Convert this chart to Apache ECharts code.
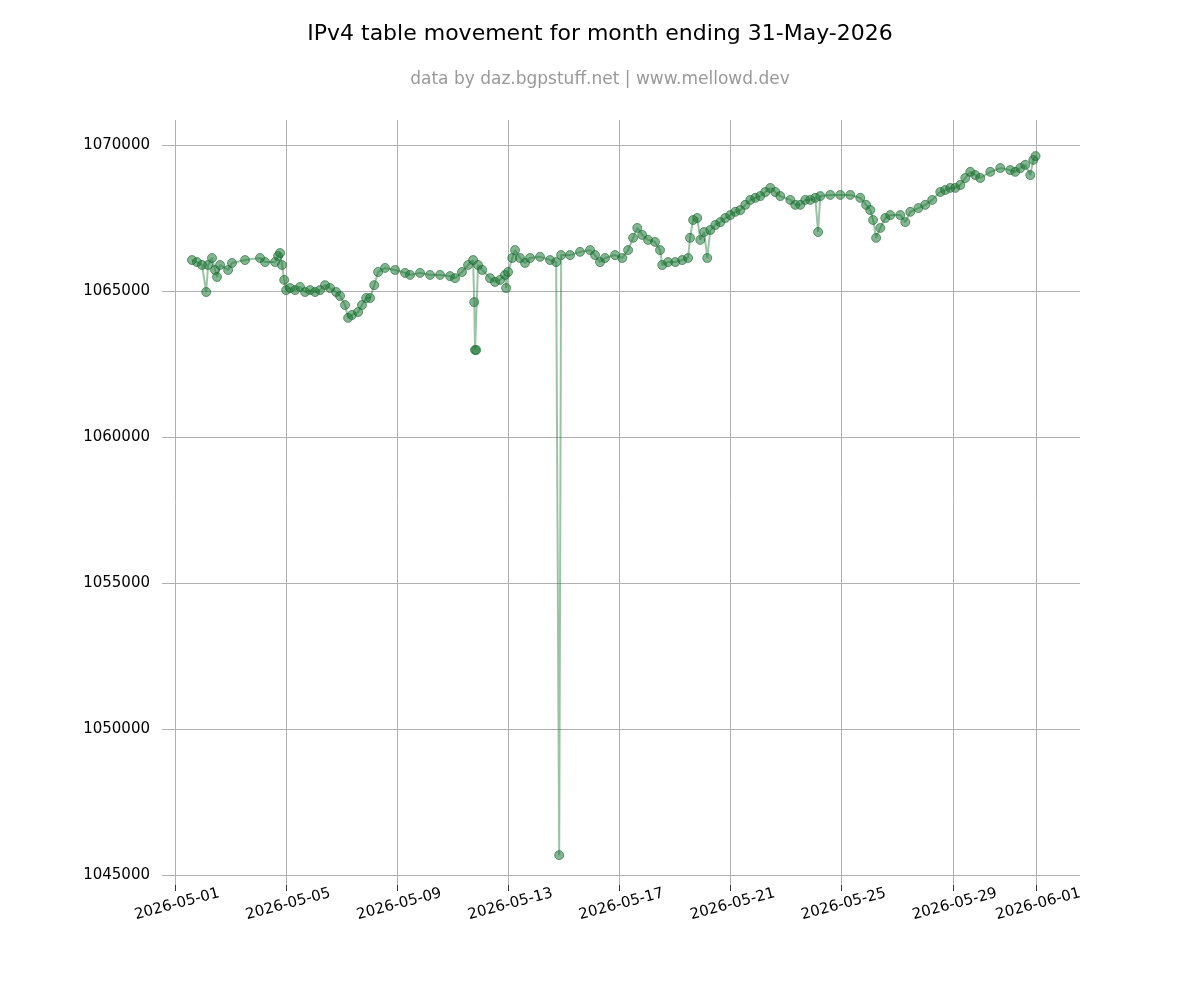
<!DOCTYPE html>
<html><head><meta charset="utf-8">
<script src="https://cdn.jsdelivr.net/npm/echarts@6/dist/echarts.min.js"></script>
<style>html,body{margin:0;padding:0;background:#fff}#c{width:1200px;height:1000px}</style>
</head><body><div id="c"></div>
<script>
// days since 2026-05-01 00:00
const dayOffsets = [0.61,0.79,0.97,1.12,1.19,1.33,1.44,1.51,1.62,1.91,2.05,2.52,3.06,3.24,3.60,3.71,3.78,3.85,3.93,4.00,4.14,4.32,4.50,4.68,4.86,5.04,5.22,5.40,5.58,5.80,5.94,6.12,6.23,6.37,6.59,6.73,6.88,7.02,7.17,7.31,7.56,7.92,8.28,8.46,8.82,9.18,9.54,9.90,10.08,10.33,10.55,10.73,10.77,10.80,10.84,10.91,11.06,11.34,11.52,11.70,11.88,11.92,11.99,12.14,12.24,12.42,12.60,12.78,13.14,13.50,13.72,13.83,13.90,14.22,14.58,14.94,15.12,15.30,15.48,15.84,16.10,16.31,16.49,16.64,16.82,17.03,17.28,17.46,17.54,17.75,18.01,18.26,18.47,18.54,18.65,18.80,18.91,19.05,19.16,19.27,19.45,19.63,19.81,19.99,20.17,20.35,20.53,20.71,20.89,21.07,21.25,21.43,21.61,21.79,22.15,22.33,22.51,22.69,22.87,23.05,23.15,23.23,23.59,23.95,24.31,24.67,24.88,25.03,25.13,25.24,25.39,25.57,25.75,26.11,26.29,26.47,26.76,27.01,27.26,27.55,27.73,27.91,28.09,28.27,28.45,28.63,28.81,28.99,29.35,29.71,30.07,30.25,30.43,30.61,30.79,30.90,30.98];
const tableSize = [1066060,1065990,1065890,1064965,1065890,1066130,1065720,1065480,1065890,1065720,1065960,1066060,1066130,1065990,1065990,1066200,1066300,1065890,1065380,1065030,1065100,1065030,1065140,1064965,1065030,1064965,1065030,1065200,1065100,1064965,1064830,1064520,1064080,1064180,1064280,1064520,1064760,1064760,1065200,1065650,1065790,1065720,1065620,1065550,1065620,1065550,1065550,1065510,1065440,1065650,1065890,1066060,1064620,1062980,1062980,1065890,1065720,1065440,1065310,1065380,1065550,1065100,1065650,1066130,1066400,1066130,1065960,1066130,1066170,1066060,1065990,1045680,1066230,1066230,1066340,1066400,1066230,1065990,1066130,1066230,1066130,1066400,1066820,1067160,1066920,1066750,1066680,1066400,1065890,1065990,1065990,1066060,1066130,1066820,1067430,1067500,1066750,1067020,1066130,1067090,1067260,1067360,1067500,1067600,1067710,1067770,1067950,1068120,1068190,1068250,1068390,1068530,1068390,1068250,1068120,1067950,1067950,1068120,1068120,1068190,1067020,1068250,1068290,1068290,1068290,1068190,1067950,1067770,1067430,1066820,1067160,1067500,1067600,1067600,1067360,1067710,1067840,1067950,1068120,1068390,1068460,1068530,1068530,1068630,1068870,1069080,1068970,1068870,1069080,1069210,1069140,1069080,1069210,1069320,1068970,1069490,1069620];
const xTickDays = [0,4,8,12,16,20,24,28,31];
const xTickLabels = ['2026-05-01','2026-05-05','2026-05-09','2026-05-13','2026-05-17','2026-05-21','2026-05-25','2026-05-29','2026-06-01'];
const yTicks = [1045000,1050000,1055000,1060000,1065000,1070000];

const font = 'DejaVu Sans';
const grid = {color:'#b0b0b0', width:1};
const chart = echarts.init(document.getElementById('c'));
chart.setOption({
  animation:false,
  title:{text:'IPv4 table movement for month ending 31-May-2026',
    subtext:'data by daz.bgpstuff.net | www.mellowd.dev',
    left:'center', top:18, itemGap:26,
    textStyle:{fontFamily:font,fontSize:22,fontWeight:'normal',color:'#000'},
    subtextStyle:{fontFamily:font,fontSize:17,color:'#999'}},
  grid:{left:162,right:120,top:120,bottom:115},
  xAxis:{type:'value',min:-0.47,max:32.58,
    axisLine:{show:false},splitLine:{show:false},
    axisTick:{show:true,customValues:xTickDays,length:6,lineStyle:{color:'#333'}},
    axisLabel:{customValues:xTickDays,rotate:15,align:'center',verticalAlign:'top',fontFamily:font,fontSize:15,color:'#000',margin:12,
      formatter:v=>xTickLabels[xTickDays.indexOf(Math.round(v))]||''}},
  yAxis:{type:'value',min:1044658,max:1070856,
    axisLine:{show:false},splitLine:{show:false},
    axisTick:{show:true,customValues:yTicks,length:6,lineStyle:{color:'#333'}},
    axisLabel:{customValues:yTicks,fontFamily:font,fontSize:15,color:'#000',margin:12,formatter:v=>String(v)}},
  series:[
    {type:'line',data:[[0,1044658]],symbol:'none',lineStyle:{opacity:0},z:1,silent:true,
     markLine:{silent:true,symbol:'none',label:{show:false},lineStyle:{...grid,type:'solid'},
       data:[...xTickDays.map(d=>({xAxis:d})),...yTicks.map(v=>({yAxis:v}))]}},
    {type:'line',z:5,data:dayOffsets.map((d,i)=>[d,tableSize[i]]),
     symbol:'circle',symbolSize:9,showAllSymbol:true,
     lineStyle:{color:'rgba(31,122,58,0.45)',width:2},
     itemStyle:{color:'rgba(30,120,55,0.55)',borderColor:'rgba(25,100,45,0.6)',borderWidth:1}}
  ]
});
</script></body></html>
